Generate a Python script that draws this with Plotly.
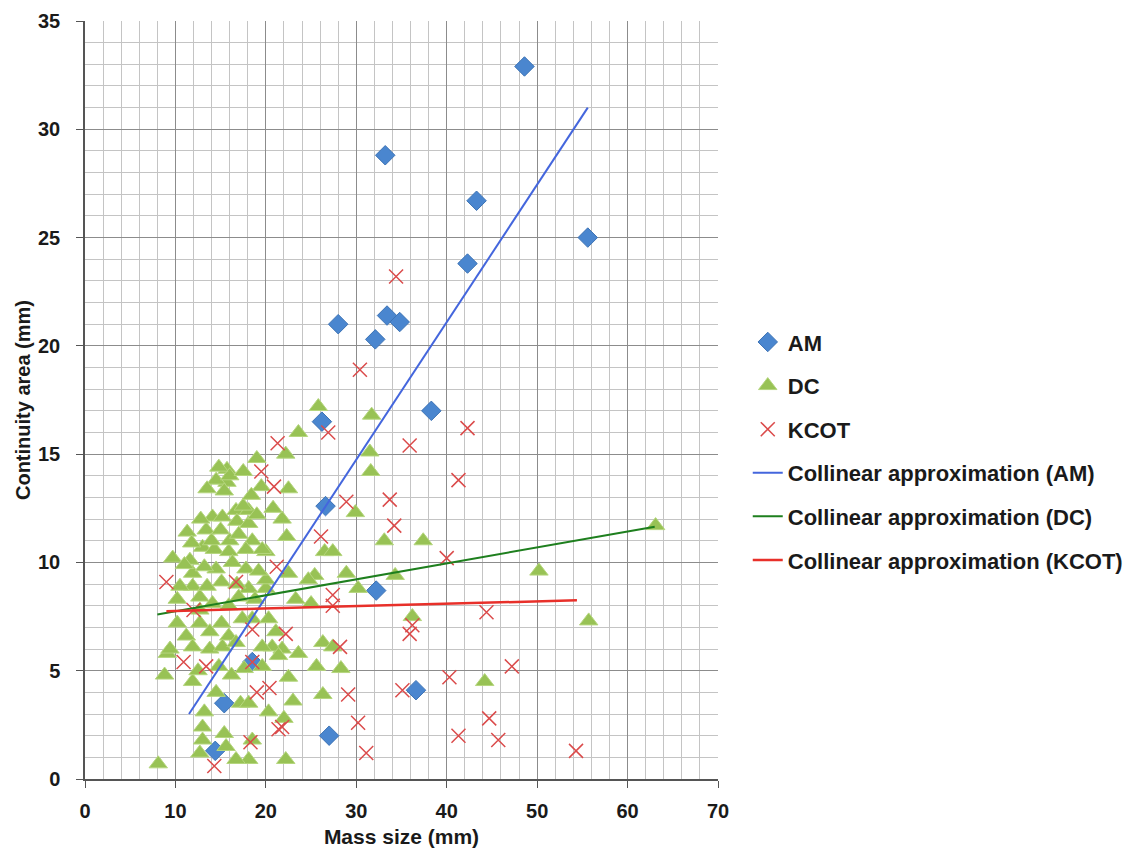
import plotly.graph_objects as go

# ---- data ----
am_x = [48.6, 33.2, 43.3, 55.6, 42.3, 28.0, 33.4, 34.8, 32.1, 38.3, 26.2, 26.6, 32.2, 36.6, 27.0, 15.4, 14.4, 18.5]
am_y = [32.9, 28.8, 26.7, 25.0, 23.8, 21.0, 21.4, 21.1, 20.3, 17.0, 16.5, 12.6, 8.7, 4.1, 2.0, 3.5, 1.3, 5.4]

dc_x = [25.8, 31.7, 23.6, 22.2, 31.5, 31.6, 19.0, 15.7, 15.7, 14.5, 13.5, 15.4, 19.5, 22.5, 14.1, 15.2,
        16.7, 18.1, 16.8, 18.1, 21.8, 11.3, 13.4, 29.9, 22.3, 33.1, 37.4, 26.5, 27.4, 18.5, 20.0, 50.2,
        34.3, 28.9, 25.4, 24.7, 22.5, 30.2, 23.3, 25.0, 20.0, 36.2, 55.7, 63.1, 20.3, 18.5, 26.3, 27.4,
        23.6, 21.8, 20.7, 25.6, 28.3, 22.5, 44.2, 26.3, 23.0, 20.3, 22.0, 18.5, 22.2, 18.1,
        8.1, 9.1, 8.8, 11.9, 14.5, 13.2, 13.0, 13.0, 12.7, 15.4, 15.6, 16.7, 17.2, 18.1, 17.6, 19.6, 21.4,
        9.7, 10.2, 11.6, 11.9, 11.9, 12.7, 13.0, 14.3, 14.5, 15.1, 15.9, 17.8, 17.8, 19.6, 20.0, 18.1,
        10.2, 11.2, 12.7, 13.8, 15.1, 15.9, 17.4, 21.1, 11.9, 13.8, 15.2, 16.7, 9.4, 19.6, 12.7, 14.1, 15.9,
        12.8, 14.0, 15.0, 16.0, 17.0, 17.5, 19.0, 16.3, 13.2, 16.8, 19.2, 18.8, 17.0, 13.5, 11.0, 10.5,
        14.8, 16.2, 12.5, 16.0, 14.8, 18.4, 20.8, 17.5, 11.8]
dc_y = [17.2, 16.8, 16.0, 15.0, 15.1, 14.2, 14.8, 14.3, 13.7, 13.8, 13.4, 13.3, 13.5, 13.4, 12.1, 12.1,
        12.4, 12.4, 11.9, 11.8, 12.0, 11.4, 11.5, 12.3, 11.2, 11.0, 11.0, 10.5, 10.5, 11.0, 10.5, 9.6,
        9.4, 9.5, 9.4, 9.2, 9.5, 8.8, 8.3, 8.1, 8.8, 7.5, 7.3, 11.7, 7.4, 7.4, 6.3, 6.1,
        5.8, 6.0, 6.1, 5.2, 5.1, 4.7, 4.5, 3.9, 3.6, 3.1, 2.8, 1.8, 0.9, 0.9,
        0.7, 5.8, 4.8, 4.5, 4.0, 3.1, 2.4, 1.8, 1.2, 2.1, 1.5, 0.9, 3.5, 3.5, 5.1, 5.2, 5.7,
        10.2, 8.3, 10.1, 9.5, 8.9, 8.4, 10.7, 10.6, 9.7, 9.1, 10.5, 10.6, 9.7, 10.6, 9.2, 8.8,
        7.2, 6.6, 7.2, 6.8, 7.2, 6.6, 7.4, 6.8, 6.1, 6.0, 6.1, 6.3, 6.0, 6.1, 7.8, 8.1, 8.0,
        12.0, 11.0, 11.5, 11.0, 11.3, 12.6, 12.2, 10.0, 9.8, 9.0, 9.6, 8.3, 8.4, 8.9, 9.9, 8.9,
        5.2, 4.8, 5.0, 14.0, 14.4, 13.1, 12.5, 14.2, 10.9]

kcot_x = [34.4, 30.4, 42.3, 26.9, 21.3, 35.9, 41.3, 19.5, 20.9, 33.7, 28.9, 34.2, 26.1, 40.0, 21.2,
          9.0, 16.7, 27.4, 27.4, 12.0, 44.4, 36.2, 35.9, 22.2, 18.5, 28.2, 47.2, 10.9, 13.4, 18.5,
          40.3, 35.1, 29.1, 20.4, 19.0, 44.7, 30.2, 21.8, 21.4, 41.3, 45.7, 18.3, 31.1, 54.3, 14.3]
kcot_y = [23.2, 18.9, 16.2, 16.0, 15.5, 15.4, 13.8, 14.2, 13.5, 12.9, 12.8, 11.7, 11.2, 10.2, 9.8,
          9.1, 9.1, 8.5, 8.0, 7.8, 7.7, 7.1, 6.7, 6.7, 6.9, 6.1, 5.2, 5.4, 5.2, 5.4,
          4.7, 4.1, 3.9, 4.2, 4.0, 2.8, 2.6, 2.4, 2.3, 2.0, 1.8, 1.7, 1.2, 1.3, 0.6]

# fitted (collinear approximation) line end points
fit_am_x = [11.5, 55.6]
fit_am_y = [3.0, 31.0]
fit_dc_x = [8.0, 63.0]
fit_dc_y = [7.6, 11.65]
fit_kcot_x = [9.0, 54.4]
fit_kcot_y = [7.75, 8.25]

series_names = ["AM", "DC", "KCOT",
                "Collinear approximation (AM)", "Collinear approximation (DC)",
                "Collinear approximation (KCOT)"]

x_ticks = [0, 10, 20, 30, 40, 50, 60, 70]
y_ticks = [0, 5, 10, 15, 20, 25, 30, 35]

FONT = "Liberation Sans"
TXT = "#1a1a1a"

fig = go.Figure()
fig.add_trace(go.Scatter(
    x=am_x, y=am_y, mode="markers", name=series_names[0], legendgroup="a",
    marker=dict(symbol="diamond", size=15, color="#4A86CF",
                line=dict(color="#3d73b5", width=1))))
fig.add_trace(go.Scatter(
    x=dc_x, y=dc_y, mode="markers", name=series_names[1], legendgroup="b",
    marker=dict(symbol="triangle-up", size=16, color="#98C255",
                line=dict(color="#b5d67e", width=1))))
fig.add_trace(go.Scatter(
    x=kcot_x, y=kcot_y, mode="markers", name=series_names[2], legendgroup="c",
    marker=dict(symbol="x-thin", size=14, color="#DB4B4B",
                line=dict(color="#DB4B4B", width=1.5))))
fig.add_trace(go.Scatter(
    x=fit_am_x, y=fit_am_y, mode="lines", name=series_names[3], legendgroup="d",
    line=dict(color="#4466DD", width=2)))
fig.add_trace(go.Scatter(
    x=fit_dc_x, y=fit_dc_y, mode="lines", name=series_names[4], legendgroup="e",
    line=dict(color="#1E7F1E", width=2)))
fig.add_trace(go.Scatter(
    x=fit_kcot_x, y=fit_kcot_y, mode="lines", name=series_names[5], legendgroup="f",
    line=dict(color="#E8302A", width=2.5)))

axis_common = dict(
    showline=True, linecolor="#555555", linewidth=1.5,
    ticks="outside", ticklen=7, tickcolor="#555555",
    tickfont=dict(family=FONT, size=20, color=TXT, weight="bold"),
    gridcolor="#8c8c8c", gridwidth=1, zeroline=False, automargin=False,
)

fig.update_xaxes(range=[0, 70], tickvals=x_ticks, ticktext=[str(v) for v in x_ticks],
                 minor=dict(dtick=2, showgrid=True, gridcolor="#c4c4c4", gridwidth=1),
                 ticklabelstandoff=6,
                 title=dict(text="Mass size (mm)", standoff=10,
                            font=dict(family=FONT, size=21, color=TXT, weight="bold")),
                 **axis_common)
fig.update_yaxes(range=[0, 35], tickvals=y_ticks, ticktext=[str(v) for v in y_ticks],
                 minor=dict(dtick=1, showgrid=True, gridcolor="#c4c4c4", gridwidth=1),
                 ticklabelstandoff=12,
                 title=dict(text="Continuity area (mm)", standoff=2,
                            font=dict(family=FONT, size=20, color=TXT, weight="bold")),
                 **axis_common)

fig.update_layout(
    width=1132, height=840,
    margin=dict(l=77, r=416, t=13, b=69),
    paper_bgcolor="white", plot_bgcolor="white",
    font=dict(family=FONT, color=TXT),
    legend=dict(x=1.047, xanchor="left", y=0.604, yanchor="top",
                font=dict(family=FONT, size=22, color=TXT, weight="bold"),
                traceorder="grouped", tracegroupgap=12, itemwidth=30,
                bgcolor="rgba(0,0,0,0)"),
    showlegend=True,
)

fig.write_html("out.html")
